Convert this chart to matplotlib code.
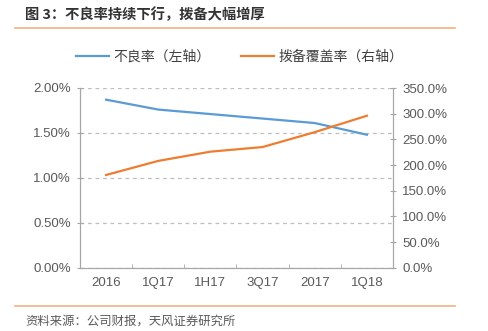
import matplotlib
matplotlib.use('Agg')
import matplotlib.pyplot as plt
from matplotlib.ticker import FuncFormatter

plt.rcParams['font.family'] = ['Liberation Sans', 'Noto Sans CJK SC', 'DejaVu Sans']

categories = ['2016', '1Q17', '1H17', '3Q17', '2017', '1Q18']
npl_ratio = [1.87, 1.76, 1.71, 1.66, 1.61, 1.48]          # 不良率, %
coverage_ratio = [180.6, 208.0, 226.0, 235.0, 264.0, 296.0]  # 拨备覆盖率, %

blue = '#5b9bd5'
orange = '#ed7d31'
gray = '#595959'
axis_gray = '#a6a6a6'

fig = plt.figure(figsize=(4.89, 3.31), dpi=100)
ax = fig.add_axes([80 / 489, 1 - 267.7 / 331, 313 / 489, 179.7 / 331])
ax2 = ax.twinx()

x = range(len(categories))
l1, = ax.plot(x, npl_ratio, color=blue, lw=1.6, label='不良率（左轴）')
l2, = ax2.plot(x, coverage_ratio, color=orange, lw=1.6, label='拨备覆盖率（右轴）')

ax.set_xlim(-0.5, len(categories) - 0.5)
ax.set_ylim(0, 2.0)
ax.set_yticks([0, 0.5, 1.0, 1.5, 2.0])
ax.yaxis.set_major_formatter(FuncFormatter(lambda v, p: f'{v:.2f}%'))
ax2.set_ylim(0, 350)
ax2.set_yticks(range(0, 351, 50))
ax2.yaxis.set_major_formatter(FuncFormatter(lambda v, p: f'{v:.1f}%'))

ax.set_xticks(list(x))
ax.set_xticklabels(categories)
ax.set_xticks([i + 0.5 for i in range(-1, len(categories))], minor=True)
ax.tick_params(axis='x', which='major', length=0, pad=7, labelsize=9.5, labelcolor=gray)
ax.tick_params(axis='x', which='minor', direction='in', length=3, color=axis_gray)
ax.tick_params(axis='y', direction='inout', length=5, color=axis_gray, labelsize=9.5, labelcolor=gray, pad=4)
ax2.tick_params(axis='y', direction='inout', length=5, color=axis_gray, labelsize=9.5, labelcolor=gray, pad=4)

ax.grid(axis='y', linestyle=(0, (3, 3)), color='#bfbfbf', lw=0.9)
ax.set_axisbelow(True)
for a in (ax, ax2):
    a.spines['top'].set_visible(False)
    for s in ('left', 'right', 'bottom'):
        a.spines[s].set_color(axis_gray)

fig.legend(handles=[l1, l2], loc='center', bbox_to_anchor=(0.49, 1 - 57 / 331), ncol=2,
           frameon=False, fontsize=10, handlelength=2.4, columnspacing=2.2,
           labelcolor='#404040', handletextpad=0.3)

fig.text(25 / 489, 1 - 15 / 331, '图 3：不良率持续下行，拨备大幅增厚', fontsize=10.3,
         fontweight='bold', color='#333333', va='center',
         family=['Noto Sans CJK SC', 'DejaVu Sans'])
fig.add_artist(plt.Line2D([15 / 489, 455 / 489], [1 - 28 / 331, 1 - 28 / 331],
                          color='#f4b183', lw=1.2))
fig.add_artist(plt.Line2D([15 / 489, 455 / 489], [1 - 306 / 331, 1 - 306 / 331],
                          color='#f4b183', lw=1.2))
fig.text(25 / 489, 1 - 321 / 331, '资料来源：公司财报，天风证券研究所', fontsize=8.9,
         color='#595959', va='center', family=['Noto Sans CJK SC', 'DejaVu Sans'])

fig.savefig('out.png', dpi=100)
